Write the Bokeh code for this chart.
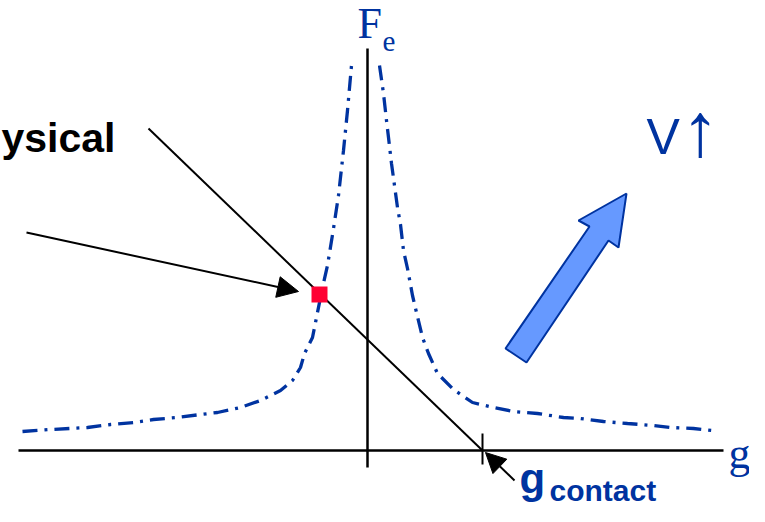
from bokeh.plotting import figure
from bokeh.models import Range1d, Arrow, NormalHead
from bokeh.core.properties import value
from bokeh.embed import file_html
from bokeh.resources import INLINE

# ---- data (units: screen pixels relative to the axes origin) ----
curve_left_x = [-345, -317, -280, -257, -234, -214, -190, -167, -150, -127, -107, -87, -75, -67,
                -63, -55, -50, -45, -40, -34, -29, -24, -20, -16]
curve_left_y = [19, 21, 23, 26, 28, 31, 33, 36, 38, 43, 50, 60, 70, 83,
                97, 113, 138, 163, 185, 222, 255, 300, 340, 385]
curve_right_x = [12, 16, 19, 21, 24, 27, 30, 33, 36, 40, 45, 49, 55, 61, 70, 86, 105, 126,
                 146, 170, 196, 213, 236, 260, 286, 303, 326, 345]
curve_right_y = [385, 357, 330, 313, 287, 265, 243, 226, 200, 182, 155, 138, 113, 97, 77, 61, 48, 43,
                 39, 37, 33, 32, 29, 27, 25, 23, 22, 20]

g_axis_x = [-349, 356]
g_axis_y = [0, 0]
fe_axis_x = [0, 0]
fe_axis_y = [-17, 402]

load_line_x = [-219, 115]
load_line_y = [322, 0]
operating_point_x = [-48]
operating_point_y = [156]

g_contact_tick_x = [115, 115]
g_contact_tick_y = [-14, 17]

pointer_arrow = dict(x_start=-341, y_start=218, x_end=-69, y_end=159)
contact_arrow = dict(x_start=147, y_start=-30, x_end=118, y_end=-2)

block_arrow_x = [138, 159, 241, 251, 259, 211, 222]
block_arrow_y = [102, 88, 210, 203, 257, 230, 224]

label_text = ["ysical", "F", "e", "g", "g", "contact", "V", "\u2191"]
label_x = [-366, -10, 15, 361, 152, 182, 279, 314]
label_y = [302, 416, 402, -14, -38, -47, 301, 302]

BLUE = "#0033a0"

p = figure(width=749, height=506, output_backend="svg", toolbar_location=None,
           x_range=Range1d(-367, 382), y_range=Range1d(-56, 450),
           min_border=0, outline_line_color=None)
p.axis.visible = False
p.grid.visible = False
p.background_fill_color = "white"
p.border_fill_color = "white"

# axes of the diagram
p.line(g_axis_x, g_axis_y, line_color="black", line_width=2.5)
p.line(fe_axis_x, fe_axis_y, line_color="black", line_width=2.5)

# electrostatic force curve
p.line(curve_left_x, curve_left_y, line_color=BLUE, line_width=3.3, line_dash="15 7 3 7")
p.line(curve_right_x, curve_right_y, line_color=BLUE, line_width=3.3, line_dash="15 7 3 7")

# load line and g_contact tick
p.line(load_line_x, load_line_y, line_color="black", line_width=2)
p.line(g_contact_tick_x, g_contact_tick_y, line_color="black", line_width=2)

# operating point
p.scatter(operating_point_x, operating_point_y, marker="square", size=16,
          fill_color="#ff0033", line_color=None)

# pointer arrows
p.add_layout(Arrow(end=NormalHead(size=21, fill_color="black", line_color="black", line_width=1),
                   line_color="black", line_width=2, **pointer_arrow))
p.add_layout(Arrow(end=NormalHead(size=20, fill_color="black", line_color="black", line_width=1),
                   line_color="black", line_width=2, **contact_arrow))

# block arrow
p.patch(block_arrow_x, block_arrow_y, fill_color="#6699ff", line_color=BLUE, line_width=2)

def label(i, font, size, color, style="normal"):
    p.text(x=[label_x[i]], y=[label_y[i]], text=[label_text[i]], text_font=value(font),
           text_font_size=value(f"{size}px"), text_color=color, text_font_style=style,
           text_baseline="alphabetic", text_align="left", y_offset=-0.25 * size)

label(0, "Liberation Sans", 41, "black", "bold")
label(1, "Liberation Serif", 44, BLUE)
label(2, "Liberation Serif", 29, BLUE)
label(3, "Liberation Serif", 44, BLUE)
label(4, "Liberation Sans", 42, BLUE, "bold")
label(5, "Liberation Sans", 30, BLUE, "bold")
label(6, "Liberation Sans", 50, BLUE)
label(7, "Liberation Sans", 76, BLUE)

open("out.html", "w").write(file_html(p, INLINE))
